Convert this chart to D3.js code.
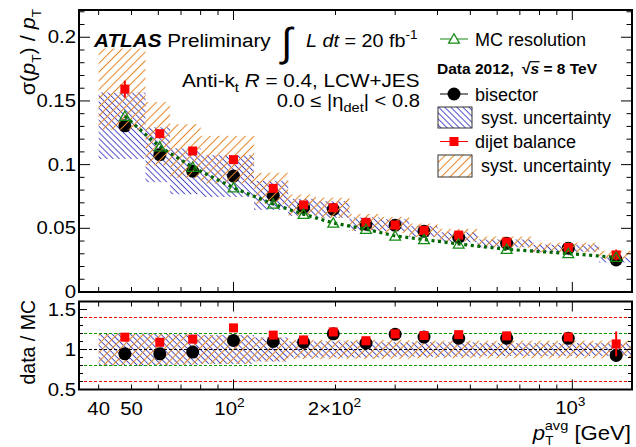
<!DOCTYPE html>
<html>
<head>
<meta charset="utf-8">
<script src="https://cdn.jsdelivr.net/npm/d3@7"></script>
<style>
  body { margin: 0; background: #fff; }
  svg { display: block; }
  text { font-family: "Liberation Sans", Arial, Helvetica, sans-serif; fill: #000; }
</style>
</head>
<body>
<svg id="chart" width="636" height="447"></svg>
<script>
// pT-avg binning and measured jet energy resolution (anti-kt R=0.4, LCW+JES, |eta_det| < 0.8)
const binEdges = [40, 55, 65, 80, 115, 145, 175, 220, 270, 330, 400, 525, 760, 1200, 1500];
const ptAvg    = [47.8, 60.6, 75.8, 100, 131, 161, 197, 246, 300, 365, 462, 640, 973, 1347];
const mcResolution = [0.138, 0.114, 0.098, 0.0818, 0.069, 0.061, 0.0542, 0.0493, 0.044, 0.0412, 0.0377, 0.0335, 0.0302, 0.0272];
const bisector     = [0.1305, 0.1078, 0.0948, 0.0910, 0.0759, 0.0665, 0.0648, 0.0532, 0.0524, 0.0476, 0.0430, 0.0382, 0.0344, 0.0252];
const dijetBalance = [0.1593, 0.1243, 0.1107, 0.1039, 0.0814, 0.0683, 0.0661, 0.0547, 0.0526, 0.0484, 0.0447, 0.0392, 0.0349, 0.0291];
const dijetStat    = [0.0066, 0.0025, 0.0018, 0.0015, 0.0012, 0.0010, 0.0010, 0.0010, 0.0010, 0.0010, 0.0010, 0.0010, 0.0012, 0.0042];
// relative systematic uncertainties per bin
const bisectorSystRel = [0.20, 0.20, 0.19, 0.18, 0.15, 0.10, 0.10, 0.10, 0.09, 0.09, 0.09, 0.08, 0.08, 0.08];
const dijetSystRel    = [0.20, 0.20, 0.19, 0.18, 0.15, 0.12, 0.12, 0.12, 0.12, 0.11, 0.11, 0.11, 0.11, 0.11];
// axis ticks
const yTopMajor = [0, 0.05, 0.1, 0.15, 0.2];
const yTopLabels = ["0", "0.05", "0.1", "0.15", "0.2"];
const yBotMajor = [0.5, 1, 1.5];
const yBotLabels = ["0.5", "1", "1.5"];
const xMajor = [100, 1000];
const xMinor = [40, 50, 60, 70, 80, 90, 200, 300, 400, 500, 600, 700, 800, 900];
const ratioLines = [
  { v: 1.4, c: "#ff0000" }, { v: 1.2, c: "#009900" }, { v: 1.0, c: "#000000" },
  { v: 0.8, c: "#009900" }, { v: 0.6, c: "#ff0000" }
];

const svg = d3.select("#chart");
const X0 = 79, X1 = 632;
const x = d3.scaleLog().domain([35, 1500]).range([X0, X1]);
const yTop = d3.scaleLinear().domain([0, 0.2214]).range([292, 10]);
const yBot = d3.scaleLinear().domain([0.5, 1.6]).range([389.5, 301.5]);

const BLUE = "#4646c8", ORANGE = "#e3862a", RED = "#ff0000";
const TRI = "#138a13", DOT = "#006600";

// hatch patterns
const defs = svg.append("defs");
function hatch(id, color, spacing, angle, width) {
  const p = defs.append("pattern").attr("id", id)
    .attr("patternUnits", "userSpaceOnUse")
    .attr("width", spacing).attr("height", 10)
    .attr("patternTransform", `rotate(${angle})`);
  p.append("line").attr("x1", spacing / 2).attr("x2", spacing / 2)
    .attr("y1", -1).attr("y2", 11)
    .attr("stroke", color).attr("stroke-width", width);
}
hatch("hBlue", BLUE, 4.3, -45, 0.95);
hatch("hOrange", ORANGE, 6.2, 45, 1.05);

const clipTop = defs.append("clipPath").attr("id", "clipTop");
clipTop.append("rect").attr("x", X0).attr("y", 10).attr("width", X1 - X0).attr("height", 282);
const clipBot = defs.append("clipPath").attr("id", "clipBot");
clipBot.append("rect").attr("x", X0).attr("y", 301.5).attr("width", X1 - X0).attr("height", 88);

const bins = d3.range(ptAvg.length).map(i => ({
  lo: binEdges[i], hi: binEdges[i + 1], pt: ptAvg[i],
  mc: mcResolution[i], bis: bisector[i], dij: dijetBalance[i], stat: dijetStat[i],
  bRel: bisectorSystRel[i], dRel: dijetSystRel[i]
}));

// ---------- upper panel ----------
const upper = svg.append("g").attr("clip-path", "url(#clipTop)");

function bandRects(g, accessor, fill, yScale) {
  g.selectAll(null).data(bins).enter().append("rect")
    .attr("x", d => x(d.lo))
    .attr("width", d => x(d.hi) - x(d.lo))
    .attr("y", d => yScale(accessor(d)[1]))
    .attr("height", d => yScale(accessor(d)[0]) - yScale(accessor(d)[1]))
    .attr("fill", fill);
}
bandRects(upper, d => [d.bis * (1 - d.bRel), d.bis * (1 + d.bRel)], "url(#hBlue)", yTop);

upper.selectAll(null).data(bins).enter().append("circle")
  .attr("cx", d => x(d.pt)).attr("cy", d => yTop(d.bis)).attr("r", 6.5).attr("fill", "#000");

bandRects(upper, d => [d.dij * (1 - d.dRel), d.dij * (1 + d.dRel)], "url(#hOrange)", yTop);

upper.selectAll(null).data(bins).enter().append("line")
  .attr("x1", d => x(d.pt)).attr("x2", d => x(d.pt))
  .attr("y1", d => yTop(d.dij - d.stat)).attr("y2", d => yTop(d.dij + d.stat))
  .attr("stroke", RED).attr("stroke-width", 2);
upper.selectAll(null).data(bins).enter().append("rect")
  .attr("x", d => x(d.pt) - 4.5).attr("y", d => yTop(d.dij) - 4.5)
  .attr("width", 9).attr("height", 9).attr("fill", RED);

upper.append("path")
  .datum(bins)
  .attr("d", d3.line().x(d => x(d.pt)).y(d => yTop(d.mc)))
  .attr("fill", "none").attr("stroke", DOT).attr("stroke-width", 3.2)
  .attr("stroke-dasharray", "3,3.6");

const triPath = d3.symbol().type(d3.symbolTriangle).size(50);
upper.selectAll(null).data(bins).enter().append("path")
  .attr("d", triPath)
  .attr("transform", d => `translate(${x(d.pt)},${yTop(d.mc) + 1})`)
  .attr("fill", "none").attr("stroke", TRI).attr("stroke-width", 1.3);

// ---------- lower panel (data / MC) ----------
const lower = svg.append("g").attr("clip-path", "url(#clipBot)");
bandRects(lower, d => [1 - d.bRel, 1 + d.bRel], "url(#hBlue)", yBot);
bandRects(lower, d => [1 - d.dRel, 1 + d.dRel], "url(#hOrange)", yBot);
ratioLines.forEach(l => {
  lower.append("line").attr("x1", X0).attr("x2", X1)
    .attr("y1", yBot(l.v)).attr("y2", yBot(l.v))
    .attr("stroke", l.c).attr("stroke-width", 1.2).attr("stroke-dasharray", "3,2");
});

lower.selectAll(null).data(bins).enter().append("circle")
  .attr("cx", d => x(d.pt)).attr("cy", d => yBot(d.bis / d.mc)).attr("r", 6.5).attr("fill", "#000");
lower.selectAll(null).data(bins).enter().append("line")
  .attr("x1", d => x(d.pt)).attr("x2", d => x(d.pt))
  .attr("y1", d => yBot((d.dij - d.stat) / d.mc)).attr("y2", d => yBot((d.dij + d.stat) / d.mc))
  .attr("stroke", RED).attr("stroke-width", 2);
lower.selectAll(null).data(bins).enter().append("rect")
  .attr("x", d => x(d.pt) - 4.5).attr("y", d => yBot(d.dij / d.mc) - 4.5)
  .attr("width", 9).attr("height", 9).attr("fill", RED);

// ---------- frames and ticks ----------
function frame(y0, y1) {
  svg.append("rect").attr("x", X0).attr("y", y0).attr("width", X1 - X0).attr("height", y1 - y0)
    .attr("fill", "none").attr("stroke", "#000").attr("stroke-width", 2);
}
function xTicks(y0, y1) {
  const g = svg.append("g").attr("stroke", "#000").attr("stroke-width", 1);
  [[xMajor, 10], [xMinor, 5]].forEach(([vals, len]) => {
    vals.forEach(v => {
      g.append("line").attr("x1", x(v)).attr("x2", x(v)).attr("y1", y1).attr("y2", y1 - len);
      g.append("line").attr("x1", x(v)).attr("x2", x(v)).attr("y1", y0).attr("y2", y0 + len);
    });
  });
}
function yTicks(scale, major, minor, majLen, minLen) {
  const g = svg.append("g").attr("stroke", "#000").attr("stroke-width", 1);
  [[major, majLen], [minor, minLen]].forEach(([vals, len]) => {
    vals.forEach(v => {
      const yy = scale(v);
      g.append("line").attr("x1", X0).attr("x2", X0 + len).attr("y1", yy).attr("y2", yy);
      g.append("line").attr("x1", X1).attr("x2", X1 - len).attr("y1", yy).attr("y2", yy);
    });
  });
}
function notMajor(v) { return Math.abs(v * 20 - Math.round(v * 20)) > 1e-6; }
yTicks(yTop, yTopMajor, d3.range(1, 23).map(k => k / 100).filter(notMajor), 11, 5.5);
yTicks(yBot, yBotMajor, [0.6, 0.7, 0.8, 0.9, 1.1, 1.2, 1.3, 1.4, 1.6], 8, 4);
xTicks(10, 292);
xTicks(301.5, 389.5);
frame(10, 292);
frame(301.5, 389.5);

// ---------- text helper: runs of plain / italic / bold / sub / superscript ----------
function rich(x0, y0, parts, opt = {}) {
  const sx = opt.sx || 1;
  const g = svg.append("g")
    .attr("transform", `translate(${x0},${y0}) ${opt.rotate ? `rotate(${opt.rotate})` : ""} scale(${sx},1)`);
  const t = g.append("text").attr("x", 0).attr("y", 0)
    .attr("font-size", opt.size || 18)
    .attr("text-anchor", opt.anchor || "start");
  if (opt.bold) t.attr("font-weight", "bold");
  let cur = 0;
  parts.forEach(p => {
    const off = p.dy || 0;
    const ts = t.append("tspan").text(p.t).attr("dy", off - cur);
    cur = off;
    if (p.i) ts.attr("font-style", "italic");
    if (p.b) ts.attr("font-weight", "bold");
    if (p.fs) ts.attr("font-size", p.fs);
    if (p.dx) ts.attr("dx", p.dx);
  });
  return t;
}

// tick labels
const TS = 18.5, TSX = 1.1;
yTopMajor.forEach((v, i) => rich(76, yTop(v) + 6, [{ t: yTopLabels[i] }], { size: TS, sx: TSX, anchor: "end" }));
yBotMajor.forEach((v, i) => rich(76, yBot(v) + 6.5, [{ t: yBotLabels[i] }], { size: TS, sx: TSX, anchor: "end" }));
rich(x(40), 415, [{ t: "40" }], { size: TS, sx: TSX, anchor: "middle" });
rich(x(50), 415, [{ t: "50" }], { size: TS, sx: TSX, anchor: "middle" });
rich(x(100) - 4, 415, [{ t: "10" }, { t: "2", dy: -8, fs: 12.5 }], { size: TS, sx: TSX, anchor: "middle" });
rich(x(200) - 1, 415, [{ t: "2×10" }, { t: "2", dy: -8, fs: 12.5 }], { size: TS, sx: TSX, anchor: "middle" });
rich(x(1000) - 2, 414, [{ t: "10" }, { t: "3", dy: -8, fs: 12.5 }], { size: TS, sx: TSX, anchor: "middle" });

// axis titles
rich(631, 440, [{ t: "p", i: true }, { t: "T", dy: 5, fs: 12.5 }, { t: "avg", dy: -10, fs: 13.5, dx: -8 }, { t: " [GeV]", dy: 0 }],
  { size: 20.5, sx: 1.08, anchor: "end" });
rich(35, 9, [{ t: "σ(" }, { t: "p", i: true }, { t: "T", dy: 6, fs: 13 }, { t: ") / ", dy: 0 }, { t: "p", i: true }, { t: "T", dy: 6, fs: 13 }],
  { size: 20.5, sx: 1.05, anchor: "end", rotate: -90 });
rich(35, 300, [{ t: "data / MC" }], { size: 19.5, anchor: "end", rotate: -90 });

// labels
rich(94, 47, [{ t: "ATLAS", b: true, i: true }, { t: " Preliminary" }], { size: 19, sx: 1.09 });
rich(281, 56, [{ t: "∫" }], { size: 40 });
rich(306, 47, [{ t: "L", i: true }, { t: " " }, { t: "dt", i: true }, { t: " = 20 fb" }, { t: "-1", dy: -8, fs: 13 }], { size: 19, sx: 1.04 });
rich(182, 87, [{ t: "Anti-k" }, { t: "t", dy: 5, fs: 13 }, { t: " ", dy: 0 }, { t: "R", i: true }, { t: " = 0.4, LCW+JES" }], { size: 18, sx: 1.15 });
rich(420, 107, [{ t: "0.0 ≤ |η" }, { t: "det", dy: 5, fs: 13 }, { t: "| < 0.8", dy: 0 }], { size: 18, sx: 1.12, anchor: "end" });

// legend
const lg = svg.append("g");
lg.append("line").attr("x1", 440).attr("x2", 468).attr("y1", 39).attr("y2", 39).attr("stroke", TRI).attr("stroke-width", 1);
lg.append("path").attr("d", triPath).attr("transform", "translate(454,40)")
  .attr("fill", "#fff").attr("stroke", TRI).attr("stroke-width", 1.3);
rich(475, 45.5, [{ t: "MC resolution" }], { size: 18 });

// centre-of-mass energy line, with the bar of the square root over "s"
const sqrtText = rich(437, 74, [{ t: "Data 2012, " }, { t: "√", dx: 4 }, { t: "s", i: true }, { t: " = 8 TeV" }], { size: 15.5, bold: true });
{
  const node = sqrtText.node();
  const full = node.textContent;
  const iS = full.indexOf("√") + 1;
  const s = node.getExtentOfChar(iS);
  d3.select(node.parentNode).append("line")
    .attr("x1", s.x - 0.5).attr("x2", s.x + s.width + 0.5)
    .attr("y1", -12.3).attr("y2", -12.3)
    .attr("stroke", "#000").attr("stroke-width", 1.2);
}

lg.append("line").attr("x1", 440).attr("x2", 468).attr("y1", 94).attr("y2", 94).attr("stroke", "#000").attr("stroke-width", 1);
lg.append("circle").attr("cx", 454).attr("cy", 94).attr("r", 6.5).attr("fill", "#000");
rich(475, 100.5, [{ t: "bisector" }], { size: 18 });
lg.append("rect").attr("x", 438).attr("y", 107).attr("width", 34).attr("height", 21)
  .attr("fill", "url(#hBlue)").attr("stroke", "#333").attr("stroke-width", 1);
rich(481, 123.5, [{ t: "syst. uncertainty" }], { size: 18 });

lg.append("line").attr("x1", 440).attr("x2", 468).attr("y1", 141.5).attr("y2", 141.5).attr("stroke", RED).attr("stroke-width", 1);
lg.append("rect").attr("x", 449.5).attr("y", 137).attr("width", 9).attr("height", 9).attr("fill", RED);
rich(475, 148, [{ t: "dijet balance" }], { size: 18 });
lg.append("rect").attr("x", 438).attr("y", 155).attr("width", 34).attr("height", 22)
  .attr("fill", "url(#hOrange)").attr("stroke", "#333").attr("stroke-width", 1);
rich(481, 171.5, [{ t: "syst. uncertainty" }], { size: 18 });
</script>
</body>
</html>
